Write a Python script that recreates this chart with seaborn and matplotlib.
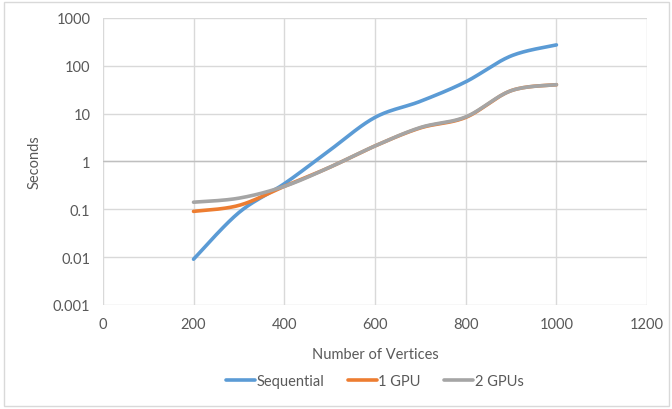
import numpy as np
import pandas as pd
import matplotlib
matplotlib.use("Agg")
import matplotlib.pyplot as plt
from matplotlib.patches import Rectangle
import seaborn as sns

# data
vertices = [200, 300, 400, 500, 600, 700, 800, 900, 1000]
sequential = [0.009, 0.085, 0.34, 1.7, 8.3, 18, 46, 160, 272]
one_gpu = [0.09, 0.12, 0.3, 0.75, 2.1, 5.0, 8.3, 30, 40]
two_gpus = [0.14, 0.17, 0.3, 0.75, 2.1, 5.1, 8.5, 30, 40]

series_names = ["Sequential", "1 GPU", "2 GPUs"]
colors = ["#5B9BD5", "#ED7D31", "#A5A5A5"]


def smooth(xs, ys, steps=30):
    # Excel-style smoothed line: cubic Bezier through points, in (x, log y) space
    px = np.asarray(xs, float)
    py = np.log10(np.asarray(ys, float))
    n = len(px)
    out_x, out_y = [], []
    t = np.linspace(0, 1, steps)
    for i in range(n - 1):
        i0, i2, i3 = max(i - 1, 0), i + 1, min(i + 2, n - 1)
        c1x = px[i] + (px[i2] - px[i0]) / 6
        c1y = py[i] + (py[i2] - py[i0]) / 6
        c2x = px[i2] - (px[i3] - px[i]) / 6
        c2y = py[i2] - (py[i3] - py[i]) / 6
        bx = (1 - t) ** 3 * px[i] + 3 * (1 - t) ** 2 * t * c1x + 3 * (1 - t) * t ** 2 * c2x + t ** 3 * px[i2]
        by = (1 - t) ** 3 * py[i] + 3 * (1 - t) ** 2 * t * c1y + 3 * (1 - t) * t ** 2 * c2y + t ** 3 * py[i2]
        out_x.extend(bx if i == 0 else bx[1:])
        out_y.extend(by if i == 0 else by[1:])
    return np.array(out_x), 10 ** np.array(out_y)


frames = []
for name, vals in zip(series_names, [sequential, one_gpu, two_gpus]):
    sx, sy = smooth(vertices, vals)
    frames.append(pd.DataFrame({"Number of Vertices": sx, "Seconds": sy, "series": name}))
df = pd.concat(frames, ignore_index=True)

sns.set_style("white")
plt.rcParams["font.family"] = ["Lato", "DejaVu Sans"]

fig = plt.figure(figsize=(6.72, 4.10), dpi=100)
ax = fig.add_axes([0.153, 0.254, 0.81, 0.7])

sns.lineplot(data=df, x="Number of Vertices", y="Seconds", hue="series",
             palette=colors, sort=False, linewidth=2.6, ax=ax, zorder=3)

ax.set_yscale("log")
ax.set_xlim(0, 1200)
ax.set_ylim(0.001, 1000)
ax.set_xticks(range(0, 1201, 200))
ax.set_yticks([0.001, 0.01, 0.1, 1, 10, 100, 1000])
ax.set_yticklabels(["0.001", "0.01", "0.1", "1", "10", "100", "1000"])
ax.minorticks_off()
ax.grid(True, color="#d9d9d9", linewidth=1)
ax.axhline(1, color="#bfbfbf", linewidth=1, zorder=2)
for s in ax.spines.values():
    s.set_visible(False)
ax.tick_params(length=0, labelsize=10.5, labelcolor="#595959", pad=9)
ax.set_xlabel("Number of Vertices", fontsize=10.5, color="#595959", labelpad=11)
ax.set_ylabel("Seconds", fontsize=10.5, color="#595959", labelpad=8)

leg = ax.legend(loc="lower center", bbox_to_anchor=(0.5, -0.335), ncol=3,
                frameon=False, fontsize=10.5, handlelength=2.0, columnspacing=1.6,
                handletextpad=0.1)
for t in leg.get_texts():
    t.set_color("#595959")
for h in leg.get_lines():
    h.set_linewidth(2.6)

fig.patches.append(Rectangle((0.006, 0.007), 0.99, 0.985, transform=fig.transFigure,
                             fill=False, edgecolor="#d9d9d9", linewidth=1))

fig.savefig("out.png", dpi=100)
